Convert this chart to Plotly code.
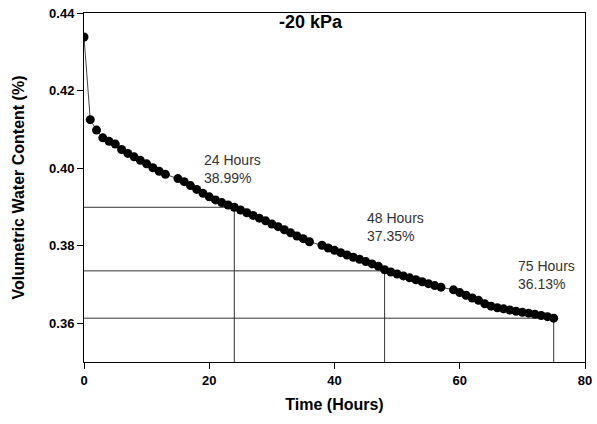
import plotly.graph_objects as go

# Time (hours) and volumetric water content readings
hours = [0, 1, 2, 3, 4, 5, 6, 7, 8, 9, 10, 11, 12, 13,
         15, 16, 17, 18, 19, 20, 21, 22, 23, 24, 25, 26, 27, 28, 29, 30,
         31, 32, 33, 34, 35, 36,
         38, 39, 40, 41, 42, 43, 44, 45, 46, 47, 48, 49, 50, 51, 52, 53,
         54, 55, 56, 57,
         59, 60, 61, 62, 63, 64, 65, 66, 67, 68, 69, 70, 71, 72, 73, 74, 75]
vwc = [0.4338, 0.4125, 0.4098, 0.4078, 0.4069, 0.4062, 0.4048, 0.4038, 0.4029,
       0.4020, 0.4011, 0.4001, 0.3992, 0.3984,
       0.3973, 0.3965, 0.3955, 0.3945, 0.3935, 0.3926, 0.3918, 0.3911, 0.3905,
       0.3899, 0.3892, 0.3885, 0.3878, 0.3871, 0.3864, 0.3856,
       0.3849, 0.3841, 0.3833, 0.3825, 0.3818, 0.3810,
       0.3801, 0.3794, 0.3788, 0.3782, 0.3776, 0.3770, 0.3765, 0.3759, 0.3753,
       0.3747, 0.3738, 0.3732, 0.3727, 0.3722, 0.3717, 0.3712,
       0.3707, 0.3702, 0.3697, 0.3693,
       0.3686, 0.3679, 0.3672, 0.3665, 0.3659, 0.3650, 0.3644, 0.3640, 0.3637,
       0.3634, 0.3631, 0.3628, 0.3626, 0.3623, 0.3620, 0.3617, 0.3613]

# Reference readings
ref_hours = [24, 48, 75]
ref_values = [0.3899, 0.3735, 0.3613]
ref_labels = ["24 Hours<br>38.99%", "48 Hours<br>37.35%", "75 Hours<br>36.13%"]
label_x = [19.0, 45.1, 69.1]
label_y = [0.4043, 0.3894, 0.3770]

x_ticks = [0, 20, 40, 60, 80]
y_ticks = [0.36, 0.38, 0.40, 0.42, 0.44]
y_min = 0.35
title_text = "-20 kPa"

FONT = "Arial, Liberation Sans, sans-serif"
fig = go.Figure()

for h, v in zip(ref_hours, ref_values):
    fig.add_trace(go.Scatter(x=[0, h, h], y=[v, v, y_min], mode="lines",
                             line=dict(color="#333333", width=1),
                             hoverinfo="skip", showlegend=False))

fig.add_trace(go.Scatter(x=hours, y=vwc, mode="lines+markers",
                         line=dict(color="#444444", width=1),
                         marker=dict(color="black", size=9),
                         showlegend=False))

for lx, ly, txt in zip(label_x, label_y, ref_labels):
    fig.add_annotation(x=lx, y=ly, text=txt, showarrow=False, xanchor="left",
                       yanchor="top", align="left", borderpad=0,
                       font=dict(family=FONT, size=14, color="#333333"))

fig.add_annotation(x=36.2, y=0.4376, text="<b>" + title_text + "</b>", showarrow=False,
                   font=dict(family=FONT, size=18, color="black"))

fig.update_layout(
    width=597, height=424,
    margin=dict(l=84, r=12, t=13, b=62),
    plot_bgcolor="white", paper_bgcolor="white",
    font=dict(family=FONT, size=13, color="black"),
    xaxis=dict(range=[0, 80], tickvals=x_ticks, ticktext=[f"<b>{t}</b>" for t in x_ticks],
               showgrid=False, zeroline=False, showline=True, linecolor="black",
               linewidth=1, mirror=True, ticks="outside", ticklen=6, tickcolor="black",
               automargin=False,
               title=dict(text="<b>Time (Hours)</b>", font=dict(size=16), standoff=12)),
    yaxis=dict(range=[y_min, 0.44], tickvals=y_ticks,
               ticktext=[f"<b>{t:.2f}</b>" for t in y_ticks],
               showgrid=False, zeroline=False, showline=True, linecolor="black",
               linewidth=1, mirror=True, ticks="outside", ticklen=6, tickcolor="black",
               automargin=False,
               title=dict(text="<b>Volumetric Water Content (%)</b>", font=dict(size=16),
                          standoff=20)),
)

# remove the default page margin and scrollbars so the figure fills the window
fig.write_html(
    "out.html", config={"displayModeBar": False},
    post_script=("document.documentElement.style.overflow='hidden';"
                 "document.body.style.overflow='hidden';"
                 "document.body.style.margin='0';"))
